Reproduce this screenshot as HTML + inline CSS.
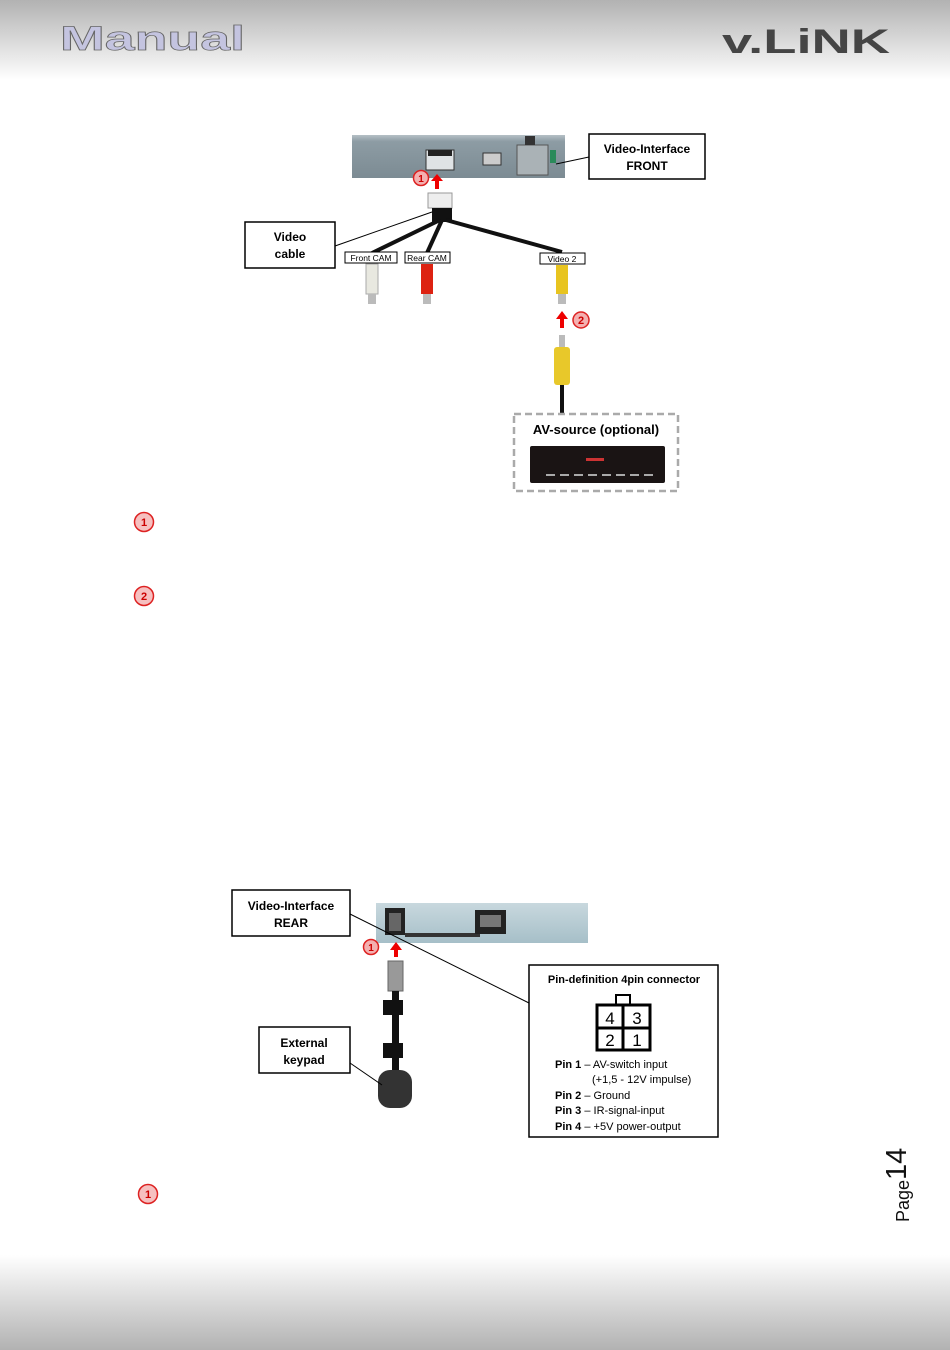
<!DOCTYPE html>
<html><head><meta charset="utf-8"><style>
html,body{margin:0;padding:0;background:#fff;}
svg{display:block;font-family:"Liberation Sans",sans-serif;}
</style></head><body>
<svg width="950" height="1350" viewBox="0 0 950 1350" xmlns="http://www.w3.org/2000/svg">
<defs>
<linearGradient id="hd" x1="0" y1="0" x2="0" y2="1"><stop offset="0" stop-color="#b2b2b2"/><stop offset="1" stop-color="#ffffff"/></linearGradient>
<linearGradient id="ft" x1="0" y1="0" x2="0" y2="1"><stop offset="0" stop-color="#ffffff"/><stop offset="1" stop-color="#b2b2b2"/></linearGradient>
<linearGradient id="dev" x1="0" y1="0" x2="0" y2="1"><stop offset="0" stop-color="#b5c0c6"/><stop offset="0.15" stop-color="#8d9ca4"/><stop offset="1" stop-color="#7c8b93"/></linearGradient>
<linearGradient id="dev2" x1="0" y1="0" x2="0" y2="1"><stop offset="0" stop-color="#c8d8de"/><stop offset="1" stop-color="#a6bfc8"/></linearGradient>
</defs>
<rect x="0" y="0" width="950" height="80" fill="url(#hd)"/>
<rect x="0" y="1255" width="950" height="95" fill="url(#ft)"/>
<text x="60" y="50" font-size="34" font-weight="bold" fill="#c4c4e0" stroke="#666" stroke-width="0.7" textLength="185" lengthAdjust="spacingAndGlyphs">Manual</text>
<text x="722" y="53" font-size="34" font-weight="bold" fill="#454545" textLength="168" lengthAdjust="spacingAndGlyphs">v.LiNK</text>

<!-- top device -->
<rect x="352" y="135" width="213" height="43" fill="url(#dev)"/>
<rect x="426" y="150" width="28" height="20" fill="#dfe3e5" stroke="#333" stroke-width="1"/>
<rect x="428" y="150" width="24" height="6" fill="#222"/>
<rect x="483" y="153" width="18" height="12" fill="#ccc" stroke="#333"/>
<rect x="517" y="145" width="31" height="30" fill="#aab2b6" stroke="#555"/>
<rect x="525" y="136" width="10" height="9" fill="#333"/>
<rect x="550" y="150" width="6" height="13" fill="#2a8a5a"/>
<line x1="556" y1="164" x2="589" y2="157" stroke="#000" stroke-width="1"/>
<rect x="589" y="134" width="116" height="45" fill="#fff" stroke="#000" stroke-width="1.5"/>
<text x="647" y="153" font-size="12" font-weight="bold" text-anchor="middle">Video-Interface</text>
<text x="647" y="170" font-size="12" font-weight="bold" text-anchor="middle">FRONT</text>
<rect x="435" y="180" width="4" height="9" fill="#e00"/>
<polygon points="431,181 443,181 437,174" fill="#e00"/>
<circle cx="421" cy="178" r="7.5" fill="#f4b0b0" stroke="#d22" stroke-width="1.5"/>
<text x="421" y="182" font-size="10" font-weight="bold" fill="#c00" text-anchor="middle">1</text>
<rect x="428" y="193" width="24" height="15" fill="#eee" stroke="#999"/>
<rect x="432" y="208" width="20" height="14" fill="#111"/>
<g stroke="#111" stroke-width="4" fill="none">
<path d="M440 220 L372 253"/><path d="M442 220 L427 253"/><path d="M446 220 L562 252"/>
</g>
<line x1="335" y1="246" x2="432" y2="212" stroke="#000" stroke-width="1"/>
<rect x="245" y="222" width="90" height="46" fill="#fff" stroke="#000" stroke-width="1.5"/>
<text x="290" y="241" font-size="12" font-weight="bold" text-anchor="middle">Video</text>
<text x="290" y="258" font-size="12" font-weight="bold" text-anchor="middle">cable</text>
<rect x="345" y="252" width="52" height="11" fill="#fff" stroke="#000"/>
<text x="371" y="261" font-size="8.5" text-anchor="middle">Front CAM</text>
<rect x="405" y="252" width="45" height="11" fill="#fff" stroke="#000"/>
<text x="427" y="261" font-size="8.5" text-anchor="middle">Rear CAM</text>
<rect x="540" y="253" width="45" height="11" fill="#fff" stroke="#000"/>
<text x="562" y="262" font-size="8.5" text-anchor="middle">Video 2</text>
<rect x="366" y="264" width="12" height="30" fill="#e8e8e0" stroke="#aaa"/><rect x="368" y="294" width="8" height="10" fill="#bbb"/>
<rect x="421" y="264" width="12" height="30" fill="#d21"/><rect x="423" y="294" width="8" height="10" fill="#bbb"/>
<rect x="556" y="265" width="12" height="29" fill="#e8c420"/><rect x="558" y="294" width="8" height="10" fill="#bbb"/>
<rect x="560" y="318" width="4" height="10" fill="#e00"/>
<polygon points="556,319 568,319 562,311" fill="#e00"/>
<circle cx="581" cy="320" r="8" fill="#f4b0b0" stroke="#d22" stroke-width="1.5"/>
<text x="581" y="324" font-size="11" font-weight="bold" fill="#c00" text-anchor="middle">2</text>
<rect x="559" y="335" width="6" height="12" fill="#bbb"/>
<rect x="554" y="347" width="16" height="38" rx="3" fill="#e8c82a"/>
<rect x="560" y="385" width="4" height="28" fill="#111"/>
<rect x="514" y="414" width="164" height="77" fill="none" stroke="#aaa" stroke-width="2.5" stroke-dasharray="7,4"/>
<text x="596" y="434" font-size="13" font-weight="bold" text-anchor="middle">AV-source (optional)</text>
<rect x="530" y="446" width="135" height="37" rx="2" fill="#1a1414"/>
<rect x="586" y="458" width="18" height="3" fill="#c33"/>
<g fill="#aaa"><rect x="546" y="474" width="9" height="2"/><rect x="560" y="474" width="9" height="2"/><rect x="574" y="474" width="9" height="2"/><rect x="588" y="474" width="9" height="2"/><rect x="602" y="474" width="9" height="2"/><rect x="616" y="474" width="9" height="2"/><rect x="630" y="474" width="9" height="2"/><rect x="644" y="474" width="9" height="2"/></g>

<g font-size="11" font-weight="bold" fill="#c00" text-anchor="middle">
<circle cx="144" cy="522" r="9.5" fill="#f6c0c0" stroke="#d22" stroke-width="1.5"/><text x="144" y="526">1</text>
<circle cx="144" cy="596" r="9.5" fill="#f6c0c0" stroke="#d22" stroke-width="1.5"/><text x="144" y="600">2</text>
<circle cx="148" cy="1194" r="9.5" fill="#f6c0c0" stroke="#d22" stroke-width="1.5"/><text x="148" y="1198">1</text>
</g>

<rect x="376" y="903" width="212" height="40" fill="url(#dev2)"/>
<rect x="385" y="908" width="20" height="27" fill="#222"/>
<rect x="389" y="913" width="12" height="18" fill="#666"/>
<rect x="405" y="933" width="75" height="4" fill="#333"/>
<rect x="475" y="910" width="31" height="24" fill="#222"/>
<rect x="480" y="915" width="21" height="12" fill="#777"/>
<line x1="350" y1="914" x2="529" y2="1003" stroke="#000" stroke-width="1"/>
<rect x="232" y="890" width="118" height="46" fill="#fff" stroke="#000" stroke-width="1.5"/>
<text x="291" y="910" font-size="12" font-weight="bold" text-anchor="middle">Video-Interface</text>
<text x="291" y="927" font-size="12" font-weight="bold" text-anchor="middle">REAR</text>
<circle cx="371" cy="947" r="7.5" fill="#f4b0b0" stroke="#d22" stroke-width="1.5"/>
<text x="371" y="951" font-size="10" font-weight="bold" fill="#c00" text-anchor="middle">1</text>
<rect x="394" y="948" width="4" height="9" fill="#e00"/>
<polygon points="390,950 402,950 396,942" fill="#e00"/>
<rect x="388" y="961" width="15" height="30" fill="#999" stroke="#666"/>
<rect x="392" y="991" width="7" height="84" fill="#111"/>
<rect x="383" y="1000" width="20" height="15" fill="#111"/>
<rect x="383" y="1043" width="20" height="15" fill="#111"/>
<rect x="378" y="1070" width="34" height="38" rx="12" fill="#333"/>
<line x1="350" y1="1063" x2="382" y2="1085" stroke="#000" stroke-width="1"/>
<rect x="259" y="1027" width="91" height="46" fill="#fff" stroke="#000" stroke-width="1.5"/>
<text x="304" y="1047" font-size="12" font-weight="bold" text-anchor="middle">External</text>
<text x="304" y="1064" font-size="12" font-weight="bold" text-anchor="middle">keypad</text>
<rect x="529" y="965" width="189" height="172" fill="#fff" stroke="#000" stroke-width="1.5"/>
<text x="624" y="983" font-size="11" font-weight="bold" text-anchor="middle">Pin-definition 4pin connector</text>
<rect x="616" y="995" width="14" height="10" fill="#fff" stroke="#000" stroke-width="2"/>
<rect x="597" y="1005" width="53" height="45" fill="#fff" stroke="#000" stroke-width="3"/>
<line x1="623" y1="1005" x2="623" y2="1050" stroke="#000" stroke-width="3"/>
<line x1="597" y1="1028" x2="650" y2="1028" stroke="#000" stroke-width="3"/>
<g font-size="17" text-anchor="middle"><text x="610" y="1024">4</text><text x="637" y="1024">3</text><text x="610" y="1046">2</text><text x="637" y="1046">1</text></g>
<g font-size="11">
<text x="555" y="1068"><tspan font-weight="bold">Pin 1</tspan> – AV-switch input</text>
<text x="592" y="1083">(+1,5 - 12V impulse)</text>
<text x="555" y="1099"><tspan font-weight="bold">Pin 2</tspan> – Ground</text>
<text x="555" y="1114"><tspan font-weight="bold">Pin 3</tspan> – IR-signal-input</text>
<text x="555" y="1130"><tspan font-weight="bold">Pin 4</tspan> – +5V power-output</text>
</g>
<g transform="translate(909,1222) rotate(-90)">
<text x="0" y="0" font-size="18" fill="#111">Page<tspan font-size="29" dy="-3">14</tspan></text>
</g>
</svg>
</body></html>
